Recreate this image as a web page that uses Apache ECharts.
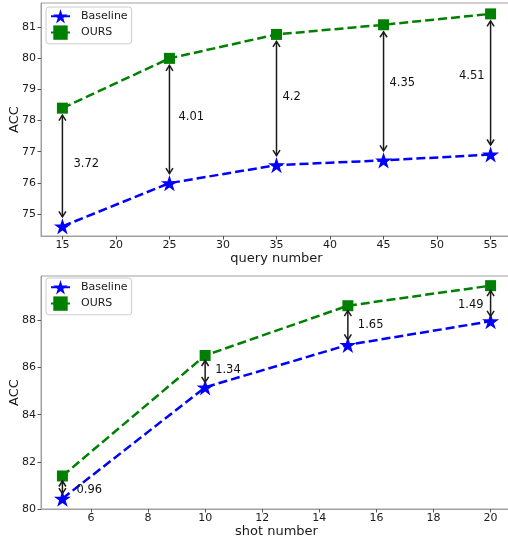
<!DOCTYPE html>
<html>
<head>
<meta charset="utf-8">
<script src="https://cdn.jsdelivr.net/npm/echarts@6/dist/echarts.min.js"></script>
<style>
  html, body { margin: 0; padding: 0; background: #fff; }
  #chart { width: 508px; height: 542px; }
</style>
</head>
<body>
<div id="chart"></div>
<script>
// upper panel: accuracy vs query number
const queryNumber = [15, 25, 35, 45, 55];
const queryBaseline = [74.6, 75.99, 76.57, 76.72, 76.91];
const queryOurs = [78.4, 80.0, 80.77, 81.08, 81.43];
const queryGap = ['3.72', '4.01', '4.2', '4.35', '4.51'];
const queryTicks = [15, 20, 25, 30, 35, 40, 45, 50, 55];
const queryAccTicks = [75, 76, 77, 78, 79, 80, 81];

// lower panel: accuracy vs shot number
const shotNumber = [5, 10, 15, 20];
const shotBaseline = [80.44, 85.16, 86.96, 87.96];
const shotOurs = [81.40, 86.51, 88.62, 89.47];
const shotGap = ['0.96', '1.34', '1.65', '1.49'];
const shotTicks = [6, 8, 10, 12, 14, 16, 18, 20];
const shotAccTicks = [80, 82, 84, 86, 88];

// label placement next to each arrow (dx<0 means text ends left of the arrow)
const queryLabelShift = [[11, -3], [9, -4], [6, -3], [6, -10], [-6, -8]];
const shotLabelShift = [[14, 3], [10, -1], [10, 0], [-7, 2]];

const FONT = 'DejaVu Sans';
const TEXT = '#1a1a1a';
const FRAME = '#a0a0a0';

// 5 point star, like matplotlib '*'
let star = 'path://';
for (let i = 0; i < 10; i++) {
  const a = (-90 + i * 36) * Math.PI / 180;
  const r = i % 2 ? 0.382 : 1;
  star += (i ? 'L' : 'M') + (r * Math.cos(a)).toFixed(4) + ' ' + (r * Math.sin(a)).toFixed(4);
}
star += 'Z';

const chartDom = document.getElementById('chart');
const myChart = echarts.init(chartDom);

const axisCommon = {
  axisLine: { show: true, onZero: false, lineStyle: { color: FRAME, width: 1 } },
  axisTick: { show: true, length: 3.5, lineStyle: { color: '#555' } },
  splitLine: { show: false },
  nameMoveOverlap: false,
  nameTextStyle: { fontFamily: FONT, fontSize: 13, color: TEXT }
};

function xAxis(gridIndex, min, max, ticks, name) {
  return Object.assign({}, axisCommon, {
    type: 'value', gridIndex, min, max, name,
    nameLocation: 'middle', nameGap: 16,
    axisTick: Object.assign({}, axisCommon.axisTick, { customValues: ticks }),
    axisLabel: { customValues: ticks, fontFamily: FONT, fontSize: 11, color: TEXT, margin: 4 }
  });
}

function yAxis(gridIndex, min, max, ticks) {
  return Object.assign({}, axisCommon, {
    type: 'value', gridIndex, min, max, name: 'ACC',
    nameLocation: 'middle', nameGap: 20,
    axisTick: Object.assign({}, axisCommon.axisTick, { customValues: ticks }),
    axisLabel: { customValues: ticks, fontFamily: FONT, fontSize: 11, color: TEXT, margin: 5 }
  });
}

function lineSeries(name, idx, xs, ys, isOurs) {
  return {
    name, type: 'line', xAxisIndex: idx, yAxisIndex: idx,
    data: xs.map((x, i) => [x, ys[i]]),
    symbol: isOurs ? 'rect' : star,
    symbolKeepAspect: true,
    symbolSize: isOurs ? 11 : 17,
    showSymbol: true,
    animation: false,
    color: isOurs ? '#008000' : '#0000ff',
    itemStyle: { color: isOurs ? '#008000' : '#0000ff', borderWidth: 0 },
    lineStyle: { type: [9, 4], width: 2.5, color: isOurs ? '#008000' : '#0000ff' },
    z: 3
  };
}

function arrowSeries(idx, xs, base, ours, gaps, shift, shrinkTop, shrinkBottom) {
  return {
    type: 'custom', xAxisIndex: idx, yAxisIndex: idx,
    clip: false, silent: true, animation: false, z: 4,
    data: xs.map((x, i) => [x, base[i], ours[i]]),
    encode: { x: 0, y: [1, 2] },
    renderItem: function (params, api) {
      const i = params.dataIndex;
      const top = api.coord([api.value(0), api.value(2)]);
      const bot = api.coord([api.value(0), api.value(1)]);
      const x = top[0];
      const y1 = top[1] + shrinkTop;
      const y2 = bot[1] - shrinkBottom;
      const hl = 5.5, hw = 3.5;
      const stroke = { stroke: '#1a1a1a', lineWidth: 1.5, fill: null };
      const midY = (top[1] + bot[1]) / 2;
      const s = shift[i];
      return {
        type: 'group',
        children: [
          { type: 'line', shape: { x1: x, y1: y1, x2: x, y2: y2 }, style: stroke },
          { type: 'polyline', shape: { points: [[x - hw, y1 + hl], [x, y1], [x + hw, y1 + hl]] }, style: stroke },
          { type: 'polyline', shape: { points: [[x - hw, y2 - hl], [x, y2], [x + hw, y2 - hl]] }, style: stroke },
          {
            type: 'text',
            style: {
              text: gaps[i], x: x + s[0], y: midY + s[1],
              textAlign: s[0] < 0 ? 'right' : 'left', textVerticalAlign: 'middle',
              font: '11.5px "' + FONT + '"', fill: '#111'
            }
          }
        ]
      };
    }
  };
}

function legend(top) {
  return {
    left: 46, top, orient: 'vertical',
    data: ['Baseline', 'OURS'],
    itemWidth: 19, itemHeight: 18, itemGap: 2,
    padding: [2, 4, 4, 4],
    borderColor: '#cccccc', borderWidth: 1, borderRadius: 3,
    backgroundColor: 'rgba(255,255,255,0.8)',
    textStyle: { fontFamily: FONT, fontSize: 11, color: TEXT, padding: [0, 0, 0, 6] },
    selectedMode: false
  };
}

const option = {
  animation: false,
  backgroundColor: '#fff',
  grid: [
    { left: 41, top: 3, width: 471, height: 233, outerBoundsMode: 'none', show: true, borderColor: FRAME, borderWidth: 1, backgroundColor: 'transparent' },
    { left: 41, top: 276, width: 471, height: 233, outerBoundsMode: 'none', show: true, borderColor: FRAME, borderWidth: 1, backgroundColor: 'transparent' }
  ],
  legend: [legend(7), legend(278)],
  xAxis: [
    xAxis(0, 13, 57, queryTicks, 'query number'),
    xAxis(1, 4.25, 20.75, shotTicks, 'shot number')
  ],
  yAxis: [
    yAxis(0, 74.29, 81.78, queryAccTicks),
    yAxis(1, 80, 89.88, shotAccTicks)
  ],
  series: [
    lineSeries('Baseline', 0, queryNumber, queryBaseline, false),
    lineSeries('OURS', 0, queryNumber, queryOurs, true),
    arrowSeries(0, queryNumber, queryBaseline, queryOurs, queryGap, queryLabelShift, 7, 9.5),
    lineSeries('Baseline', 1, shotNumber, shotBaseline, false),
    lineSeries('OURS', 1, shotNumber, shotOurs, true),
    arrowSeries(1, shotNumber, shotBaseline, shotOurs, shotGap, shotLabelShift, 5, 5)
  ]
};

myChart.setOption(option);
</script>
</body>
</html>
